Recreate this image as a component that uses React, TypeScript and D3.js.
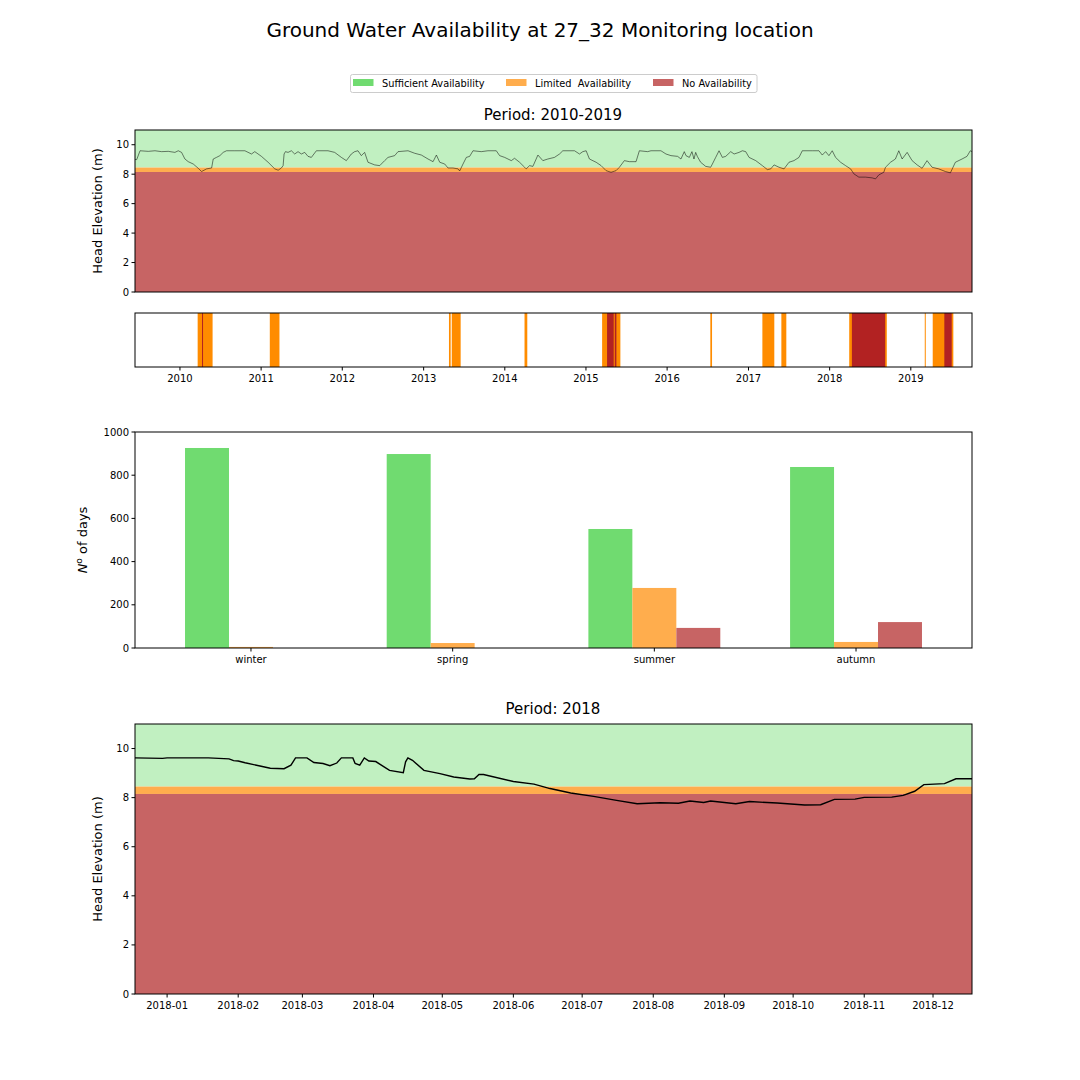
import * as React from 'react'
import * as d3 from 'd3'

// availability classes
const levelNames = ['Sufficient Availability', 'Limited  Availability', 'No Availability']
const levelColors = ['#70db70', '#ffad4d', '#c76464']
const bandColors = ['#c1f0c1', '#ffad4d', '#c76464']
const eventColors = ['#ff8c00', '#b22222']

// head thresholds (m): sufficient above upper, none below lower
const bandEdges = [11, 8.45, 8.15, 0]

// period 2010-2019, [decimal year, head m]
const decadeHead: [number, number][] = [
  [2009.446, 9.0], [2009.467, 8.99], [2009.508, 9.59], [2009.61, 9.55], [2009.692, 9.59], [2009.774, 9.53],
  [2009.856, 9.55], [2009.938, 9.48], [2009.979, 9.59], [2010.02, 9.48], [2010.061, 9.03], [2010.102, 8.85],
  [2010.164, 8.69], [2010.225, 8.4], [2010.266, 8.18], [2010.328, 8.36], [2010.39, 8.42], [2010.41, 9.03],
  [2010.45, 9.14], [2010.492, 9.26], [2010.533, 9.48], [2010.574, 9.59], [2010.676, 9.59], [2010.8, 9.59],
  [2010.881, 9.37], [2010.922, 9.53], [2011.004, 9.21], [2011.086, 8.81], [2011.168, 8.36], [2011.21, 8.27],
  [2011.25, 8.42], [2011.271, 8.58], [2011.283, 9.37], [2011.3, 9.53], [2011.332, 9.48], [2011.373, 9.59],
  [2011.414, 9.37], [2011.455, 9.53], [2011.496, 9.37], [2011.537, 9.48], [2011.578, 9.21], [2011.619, 9.14],
  [2011.681, 9.59], [2011.824, 9.59], [2011.906, 9.48], [2011.989, 9.14], [2012.05, 8.92], [2012.111, 9.37],
  [2012.152, 9.53], [2012.193, 9.59], [2012.234, 9.26], [2012.275, 9.48], [2012.316, 8.81], [2012.398, 8.63],
  [2012.46, 8.58], [2012.521, 8.92], [2012.562, 9.14], [2012.644, 9.26], [2012.685, 9.53], [2012.808, 9.59],
  [2012.89, 9.42], [2012.972, 9.3], [2013.054, 9.03], [2013.116, 8.85], [2013.157, 9.3], [2013.198, 8.81],
  [2013.26, 8.69], [2013.3, 8.42], [2013.362, 8.42], [2013.424, 8.36], [2013.444, 8.22], [2013.485, 8.69],
  [2013.526, 9.14], [2013.567, 9.21], [2013.608, 9.59], [2013.71, 9.53], [2013.792, 9.59], [2013.895, 9.59],
  [2013.936, 9.26], [2013.998, 9.14], [2014.08, 8.92], [2014.12, 9.08], [2014.182, 8.81], [2014.244, 8.47],
  [2014.264, 8.36], [2014.305, 8.58], [2014.346, 8.53], [2014.408, 9.3], [2014.469, 8.92], [2014.53, 9.03],
  [2014.612, 9.14], [2014.674, 9.37], [2014.715, 9.59], [2014.859, 9.59], [2014.92, 9.37], [2014.961, 9.53],
  [2015.002, 9.59], [2015.043, 9.03], [2015.125, 8.81], [2015.187, 8.58], [2015.248, 8.24], [2015.309, 8.13],
  [2015.371, 8.24], [2015.412, 8.47], [2015.473, 8.92], [2015.535, 8.85], [2015.617, 8.85], [2015.658, 9.59],
  [2015.76, 9.53], [2015.801, 9.59], [2015.924, 9.59], [2015.986, 9.37], [2016.047, 9.26], [2016.129, 9.21],
  [2016.17, 9.03], [2016.211, 9.53], [2016.232, 9.26], [2016.273, 9.14], [2016.305, 9.53], [2016.33, 9.03],
  [2016.351, 9.48], [2016.371, 9.21], [2016.412, 8.81], [2016.474, 8.53], [2016.535, 8.47], [2016.556, 8.69],
  [2016.597, 9.14], [2016.638, 9.59], [2016.679, 9.14], [2016.72, 9.21], [2016.782, 9.53], [2016.823, 9.37],
  [2016.884, 9.48], [2016.925, 9.59], [2016.966, 9.53], [2017.007, 9.14], [2017.089, 8.92], [2017.171, 8.58],
  [2017.233, 8.31], [2017.274, 8.36], [2017.315, 8.63], [2017.376, 8.47], [2017.438, 8.36], [2017.499, 8.81],
  [2017.56, 8.92], [2017.622, 9.14], [2017.663, 9.59], [2017.786, 9.59], [2017.868, 9.59], [2017.909, 9.3],
  [2017.95, 9.53], [2017.991, 9.26], [2018.032, 9.59], [2018.073, 9.14], [2018.135, 8.81], [2018.196, 8.58],
  [2018.258, 8.36], [2018.299, 8.02], [2018.36, 7.8], [2018.442, 7.8], [2018.524, 7.75], [2018.565, 7.68],
  [2018.606, 7.95], [2018.667, 8.13], [2018.688, 8.47], [2018.75, 8.81], [2018.81, 9.03], [2018.852, 9.59],
  [2018.893, 9.03], [2018.955, 9.48], [2019.016, 8.92], [2019.078, 8.63], [2019.139, 8.4], [2019.2, 8.92],
  [2019.262, 8.47], [2019.344, 8.36], [2019.426, 8.18], [2019.488, 8.09], [2019.549, 8.81], [2019.631, 9.03],
  [2019.692, 9.21], [2019.733, 9.59], [2019.754, 9.53],
]

// days in limited / no availability, [start, end] decimal years
const limitedSpells: [number, number][] = [
  [2010.218, 2010.402], [2011.107, 2011.226], [2013.312, 2013.333], [2013.346, 2013.456],
  [2014.243, 2014.277], [2015.199, 2015.424], [2016.531, 2016.552], [2017.171, 2017.318],
  [2017.405, 2017.466], [2018.241, 2018.704], [2019.172, 2019.18], [2019.27, 2019.524],
]
const noneSpells: [number, number][] = [
  [2010.272, 2010.278], [2015.26, 2015.342], [2015.355, 2015.375], [2018.274, 2018.684], [2019.413, 2019.504],
]

// days per season
const seasons = ['winter', 'spring', 'summer', 'autumn']
const sufficientDays = [926, 898, 551, 838]
const limitedDays = [5, 23, 278, 28]
const noneDays = [0, 0, 93, 120]

// period 2018
const yearHead: [string, number][] = [
  ['2017-12-18', 9.62], ['2017-12-30', 9.6], ['2018-01-01', 9.62], ['2018-01-19', 9.62], ['2018-01-28', 9.58],
  ['2018-01-30', 9.51], ['2018-02-01', 9.49], ['2018-02-04', 9.42], ['2018-02-09', 9.32], ['2018-02-15', 9.2],
  ['2018-02-21', 9.18], ['2018-02-24', 9.32], ['2018-02-26', 9.62], ['2018-03-03', 9.62], ['2018-03-06', 9.43],
  ['2018-03-10', 9.39], ['2018-03-13', 9.3], ['2018-03-16', 9.41], ['2018-03-18', 9.62], ['2018-03-23', 9.62],
  ['2018-03-24', 9.39], ['2018-03-26', 9.32], ['2018-03-28', 9.62], ['2018-03-30', 9.49], ['2018-04-02', 9.47],
  ['2018-04-08', 9.11], ['2018-04-14', 9.02], ['2018-04-15', 9.46], ['2018-04-16', 9.62], ['2018-04-18', 9.52],
  ['2018-04-23', 9.11], ['2018-04-30', 8.98], ['2018-05-06', 8.84], ['2018-05-13', 8.76], ['2018-05-15', 8.77],
  ['2018-05-17', 8.94], ['2018-05-19', 8.94], ['2018-06-01', 8.66], ['2018-06-10', 8.55], ['2018-06-17', 8.37],
  ['2018-06-26', 8.19], ['2018-07-06', 8.05], ['2018-07-16', 7.89], ['2018-07-25', 7.75], ['2018-08-04', 7.79],
  ['2018-08-12', 7.77], ['2018-08-17', 7.86], ['2018-08-23', 7.8], ['2018-08-26', 7.86], ['2018-09-06', 7.75],
  ['2018-09-12', 7.84], ['2018-09-24', 7.78], ['2018-10-06', 7.7], ['2018-10-13', 7.71], ['2018-10-19', 7.93],
  ['2018-10-28', 7.94], ['2018-11-01', 8.01], ['2018-11-13', 8.02], ['2018-11-18', 8.09], ['2018-11-23', 8.26],
  ['2018-11-27', 8.53], ['2018-12-06', 8.57], ['2018-12-11', 8.77], ['2018-12-18', 8.77],
]

const headTicks = [0, 2, 4, 6, 8, 10]
const dayTicks = [0, 200, 400, 600, 800, 1000]

const FONT = 'DejaVu Sans, sans-serif'
const L = 135
const R = 972

const yearToDate = (y: number) => {
  const yr = Math.floor(y)
  const a = Date.UTC(yr, 0, 1)
  const b = Date.UTC(yr + 1, 0, 1)
  return new Date(a + (y - yr) * (b - a))
}

const Frame = ({top, bottom}) => (
  <rect x={L} y={top} width={R - L} height={bottom - top} fill="none" stroke="#000" strokeWidth={1} />
)

const YAxis = ({scale, ticks}) => (
  <g fontFamily={FONT} fontSize={10}>
    {ticks.map((t) => (
      <g key={t} transform={`translate(0,${scale(t)})`}>
        <line x1={L - 3.5} x2={L} stroke="#000" />
        <text x={L - 6} dy="0.35em" textAnchor="end">{t}</text>
      </g>
    ))}
  </g>
)

const XAxis = ({scale, ticks, y, fmt}) => (
  <g fontFamily={FONT} fontSize={10}>
    {ticks.map((t, i) => (
      <g key={i} transform={`translate(${scale(t)},${y})`}>
        <line y1={0} y2={3.5} stroke="#000" />
        <text y={15} textAnchor="middle">{fmt(t)}</text>
      </g>
    ))}
  </g>
)

const HeadPanel = ({data, x, top, bottom, lineWidth, lineOpacity}) => {
  const y = d3.scaleLinear().domain([0, 11]).range([bottom, top])
  const line = d3.line<[Date, number]>().x((d) => x(d[0])).y((d) => y(d[1]))
  return (
    <g>
      {bandColors.map((c, i) => (
        <rect key={i} x={L} width={R - L} y={y(bandEdges[i])}
          height={y(bandEdges[i + 1]) - y(bandEdges[i])} fill={c} />
      ))}
      <path d={line(data) || ''} fill="none" stroke="#000" strokeWidth={lineWidth} strokeOpacity={lineOpacity} />
      <Frame top={top} bottom={bottom} />
      <YAxis scale={y} ticks={headTicks} />
      <text transform={`translate(102,${(top + bottom) / 2}) rotate(-90)`} textAnchor="middle"
        fontFamily={FONT} fontSize={13}>Head Elevation (m)</text>
    </g>
  )
}

const App = () => {
  const decade = decadeHead.map(([t, v]) => [yearToDate(t), v] as [Date, number])
  const xDecade = d3.scaleUtc().domain(d3.extent(decade, (d) => d[0]) as [Date, Date]).range([L, R])

  const parse = d3.utcParse('%Y-%m-%d')
  const year = yearHead.map(([t, v]) => [parse(t), v] as [Date, number])
  const xYear = d3.scaleUtc().domain(d3.extent(year, (d) => d[0]) as [Date, Date]).range([L, R])

  const stripTop = 313
  const stripBottom = 367

  const barTop = 432
  const barBottom = 648
  const xBar = d3.scaleLinear().domain([-0.575, 3.575]).range([L, R])
  const yBar = d3.scaleLinear().domain([0, 1000]).range([barBottom, barTop])
  const barW = 0.218
  const barSeries = [sufficientDays, limitedDays, noneDays]

  const legendItems = [353, 506, 653]

  return (
    <svg width={1080} height={1080} style={{display: 'block', position: 'absolute', left: 0, top: 0}}>
      <rect width={1080} height={1080} fill="#fff" />
      <text x={540} y={37} textAnchor="middle" fontFamily={FONT} fontSize={20}>
        Ground Water Availability at 27_32 Monitoring location
      </text>

      <g fontFamily={FONT} fontSize={9.8}>
        <rect x={350.5} y={74.5} width={406.5} height={18} rx={2} fill="#fff" stroke="#ccc" />
        {levelNames.map((n, i) => (
          <g key={n}>
            <rect x={legendItems[i]} y={79} width={20.5} height={7} fill={levelColors[i]} />
            <text x={legendItems[i] + 29} y={86.5} style={{whiteSpace: 'pre'}}>{n}</text>
          </g>
        ))}
      </g>

      <text x={553} y={120} textAnchor="middle" fontFamily={FONT} fontSize={15}>Period: 2010-2019</text>
      <HeadPanel data={decade} x={xDecade} top={130} bottom={292} lineWidth={0.6} lineOpacity={0.85} />

      <g>
        {limitedSpells.map(([a, b], i) => (
          <rect key={'l' + i} x={xDecade(yearToDate(a))} y={stripTop}
            width={Math.max(1, xDecade(yearToDate(b)) - xDecade(yearToDate(a)))}
            height={stripBottom - stripTop} fill={eventColors[0]} />
        ))}
        {noneSpells.map(([a, b], i) => (
          <rect key={'n' + i} x={xDecade(yearToDate(a))} y={stripTop}
            width={Math.max(1, xDecade(yearToDate(b)) - xDecade(yearToDate(a)))}
            height={stripBottom - stripTop} fill={eventColors[1]} />
        ))}
        <Frame top={stripTop} bottom={stripBottom} />
        <XAxis scale={xDecade} ticks={xDecade.ticks(d3.utcYear.every(1))} y={stripBottom}
          fmt={d3.utcFormat('%Y')} />
      </g>

      <g>
        {barSeries.map((vals, s) => vals.map((v, i) => (
          <rect key={s + '-' + i} x={xBar(i + (s - 1.5) * barW)} y={yBar(v)}
            width={xBar(barW) - xBar(0)} height={barBottom - yBar(v)} fill={levelColors[s]} />
        )))}
        <Frame top={barTop} bottom={barBottom} />
        <YAxis scale={yBar} ticks={dayTicks} />
        <XAxis scale={xBar} ticks={seasons.map((_, i) => i)} y={barBottom} fmt={(i) => seasons[i]} />
        <text transform={`translate(87,${(barTop + barBottom) / 2}) rotate(-90)`} textAnchor="middle"
          fontFamily={FONT} fontSize={13}>
          <tspan fontStyle="italic">N</tspan>
          <tspan fontSize={9} dy={-5}>o</tspan>
          <tspan dy={5}> of days</tspan>
        </text>
      </g>

      <text x={553} y={714} textAnchor="middle" fontFamily={FONT} fontSize={15}>Period: 2018</text>
      <HeadPanel data={year} x={xYear} top={724} bottom={994} lineWidth={1.4} lineOpacity={1} />
      <XAxis scale={xYear} ticks={xYear.ticks(d3.utcMonth.every(1))} y={994} fmt={d3.utcFormat('%Y-%m')} />
    </svg>
  )
}

export default App
